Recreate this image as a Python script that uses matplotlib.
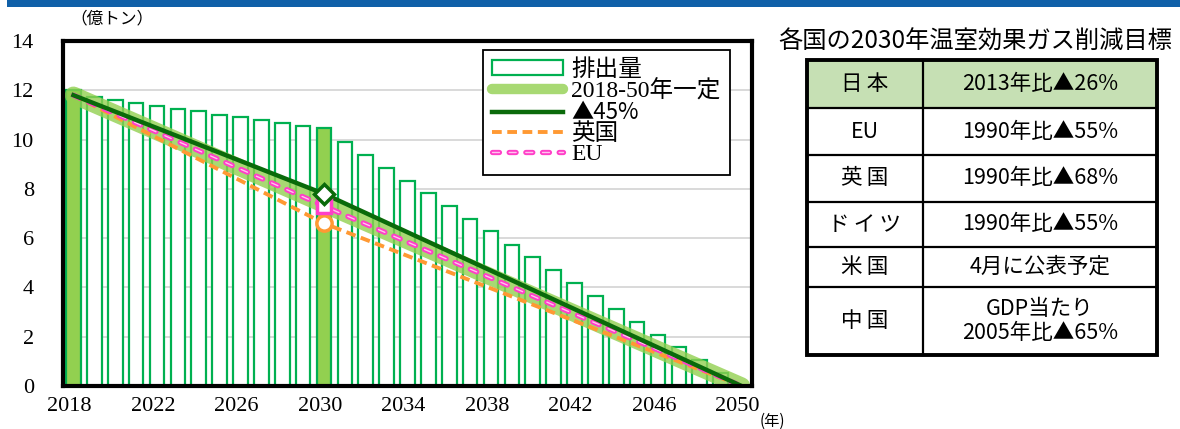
import matplotlib
matplotlib.use("Agg")
import matplotlib.pyplot as plt
from matplotlib.patches import Rectangle, Patch
from matplotlib.lines import Line2D
from matplotlib.legend_handler import HandlerTuple
import matplotlib.transforms as mtransforms

plt.rcParams['lines.scale_dashes'] = False

# ---------------- data ----------------
years = list(range(2018, 2051))
emissions = [12.0, 11.72, 11.6, 11.49, 11.37, 11.26, 11.15, 11.0, 10.9, 10.78,
             10.68, 10.55, 10.45, 9.89, 9.39, 8.85, 8.33, 7.83, 7.29, 6.78,
             6.27, 5.73, 5.24, 4.72, 4.17, 3.66, 3.13, 2.61, 2.07, 1.57,
             1.06, 0.54, 0.0]
highlight_years = [2018, 2030]

const_years = [2018, 2050]
const_vals = [11.8, 0.0]
scen_years = [2018, 2030, 2050]
cut45_vals = [11.8, 7.8, 0.0]
uk_vals = [11.8, 6.6, 0.0]
eu_vals = [11.8, 7.3, 0.0]

yticks = [0, 2, 4, 6, 8, 10, 12, 14]
xtick_years = list(range(2018, 2051, 4))

legend_labels = ['排出量', '2018-50年一定', '▲45%', '英国', 'EU']

table_title = '各国の2030年温室効果ガス削減目標'
table_country = ['日\u2009本', 'EU', '英\u2009国', 'ド\u2009イ\u2009ツ', '米\u2009国', '中\u2009国']
table_target = ['2013年比▲26%', '1990年比▲55%', '1990年比▲68%', '1990年比▲55%',
                '4月に公表予定', 'GDP当たり\n2005年比▲65%']

# ---------------- style ----------------
W, H = 1180, 429
SERIF = ['Liberation Serif', 'Noto Sans CJK JP']
SANS = ['Noto Sans CJK JP', 'DejaVu Sans']
BAR_EDGE = '#00B050'
BAR_FILL = '#92D050'
DARK = '#0A6A0A'
ORANGE = '#FF9933'
PINK = '#FF3FC8'

fig = plt.figure(figsize=(W / 100, H / 100), dpi=100)

# top blue bar
fig.patches.append(Rectangle((7 / W, 1 - 7 / H), 1, 7 / H, transform=fig.transFigure,
                             facecolor='#1060A8', edgecolor='none'))

ax = fig.add_axes([63 / W, 1 - 386 / H, (752 - 63) / W, (386 - 41) / H])

idx = [y - years[0] for y in years]
fills = [BAR_FILL if y in highlight_years else 'white' for y in years]
bars = ax.bar(idx, emissions, width=0.7, color=fills, edgecolor=BAR_EDGE,
              linewidth=1.6, zorder=2)

cx = [y - years[0] for y in const_years]
sx = [y - years[0] for y in scen_years]
band, = ax.plot(cx, const_vals, color=BAR_FILL, alpha=0.8, lw=12.5,
                solid_capstyle='round', zorder=3)
l45, = ax.plot(sx, cut45_vals, color=DARK, lw=3.2, zorder=5)
luk, = ax.plot(sx, uk_vals, color=ORANGE, lw=2.8, dashes=(7, 4),
               dash_capstyle='butt', zorder=4)
leu1, = ax.plot(sx, eu_vals, color=PINK, lw=3.8, dashes=(5, 7),
                dash_capstyle='round', zorder=4.5)
leu2, = ax.plot(sx, eu_vals, color='#FFC4EE', lw=1.0, dashes=(5, 7),
                dash_capstyle='round', zorder=4.6)

# 2030 markers
i30 = scen_years.index(2030)
ax.plot(sx[i30], uk_vals[i30], marker='o', ms=11, mfc='white', mec=ORANGE,
        mew=2.5, zorder=6)
ax.plot(sx[i30], eu_vals[i30], marker='s', ms=10, mfc='white', mec=PINK,
        mew=2.5, zorder=6.5)
ax.plot(sx[i30], cut45_vals[i30], marker='D', ms=10, mfc='white', mec=DARK,
        mew=2.5, zorder=7)

ax.set_xlim(-0.5, len(years) - 0.5)
ax.set_ylim(0, 14)
ax.set_yticks(yticks)
ax.set_yticklabels([str(v) for v in yticks], family=SERIF, fontsize=16)
ax.set_xticks([y - years[0] for y in xtick_years])
ax.set_xticklabels([str(y) for y in xtick_years], family=SERIF, fontsize=16)
ax.tick_params(axis='both', length=0)
ax.tick_params(axis='y', pad=21)
ax.tick_params(axis='x', pad=8)
off = mtransforms.ScaledTranslation(-4 / 100, 0, fig.dpi_scale_trans)
for lab in ax.get_xticklabels():
    lab.set_transform(lab.get_transform() + off)

ax.grid(axis='y', color='#D9D9D9', lw=1.4, zorder=0)
ax.set_axisbelow(True)
for s in ax.spines.values():
    s.set_linewidth(3)
    s.set_color('black')
    s.set_zorder(8)

bar_handle = Patch(facecolor='white', edgecolor=BAR_EDGE, linewidth=1.6)
band_handle = Line2D([], [], color=BAR_FILL, alpha=0.8, lw=7.5,
                     solid_capstyle='round')
leg = ax.legend([bar_handle, band_handle, l45, luk, (leu1, leu2)], legend_labels,
                loc='upper right', bbox_to_anchor=(0.968, 0.975),
                prop={'family': SERIF, 'size': 17}, frameon=True, fancybox=False,
                framealpha=1, edgecolor='black', handlelength=3.0,
                handleheight=0.55, labelspacing=-0.04, borderpad=0.4,
                handletextpad=0.35, borderaxespad=0,
                handler_map={tuple: HandlerTuple(ndivide=1)})
leg.get_texts()[2].set_family(['Noto Sans CJK JP'])
leg.get_texts()[2].set_fontsize(16)
leg.get_frame().set_linewidth(1.3)
leg.set_zorder(9)

fig.text(70 / W, 1 - 19 / H, '（億トン）', family=SANS, fontsize=12,
         va='center', ha='left')
fig.text(760 / W, 1 - 421 / H, '(年)', family=SANS, fontsize=11,
         va='center', ha='left')

# ---------------- table ----------------
tab = fig.add_axes([0, 0, 1, 1], zorder=10)
tab.set_xlim(0, W)
tab.set_ylim(H, 0)
tab.axis('off')
tab.patch.set_alpha(0)

tab.text(975, 42, table_title, family=SANS, fontsize=17.5, ha='center',
         va='center')

tl, tm, tr = 807, 923, 1157
rows = [60, 108, 155, 202, 247, 287, 355]
tab.add_patch(Rectangle((tl, rows[0]), tr - tl, rows[1] - rows[0],
                        facecolor='#C6E0B4', edgecolor='none'))
for r in rows[1:-1]:
    tab.plot([tl, tr], [r, r], color='black', lw=1.6)
tab.plot([tm, tm], [rows[0], rows[-1]], color='black', lw=1.6)
tab.add_patch(Rectangle((tl, rows[0]), tr - tl, rows[-1] - rows[0],
                        facecolor='none', edgecolor='black', lw=2.8))
for i in range(len(table_country)):
    yc = (rows[i] + rows[i + 1]) / 2
    tab.text((tl + tm) / 2, yc, table_country[i], family=SANS, fontsize=15.5,
             ha='center', va='center')
    tab.text((tm + tr) / 2, yc, table_target[i], family=SANS, fontsize=15.5,
             ha='center', va='center', linespacing=1.15)

fig.savefig('out.png', dpi=100)
